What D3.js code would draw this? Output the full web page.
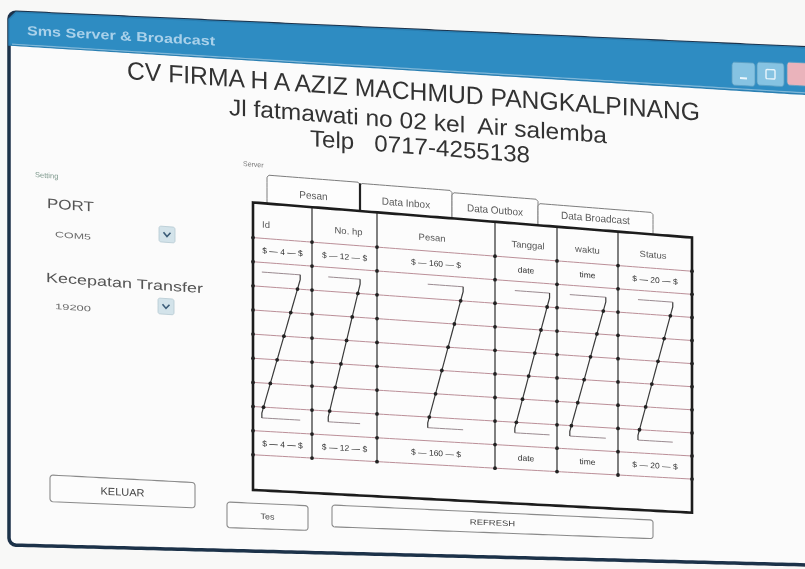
<!DOCTYPE html>
<html><head><meta charset="utf-8">
<script src="https://cdn.jsdelivr.net/npm/d3@7"></script>
<style>html,body{margin:0;padding:0;background:#f8f8f7;overflow:hidden} text{white-space:pre}</style>
</head><body>
<script>
// ---------------- data ----------------
const windowTitle = "Sms Server & Broadcast";
const headerLines = ["CV FIRMA H A AZIZ MACHMUD PANGKALPINANG", "Jl fatmawati no 02 kel  Air salemba", "Telp   0717-4255138"];
const settingLabels = ["Setting", "PORT", "Kecepatan Transfer"];
const comboValues = ["COM5", "19200"];
const groupLabel = "Server";
const tabs = ["Pesan", "Data Inbox", "Data Outbox", "Data Broadcast"];
const columns = ["Id", "No. hp", "Pesan", "Tanggal", "waktu", "Status"];
const fieldTemplates = ["$ \u2014 4 \u2014 $", "$ \u2014 12 \u2014 $", "$ \u2014 160 \u2014 $", "date", "time", "$ \u2014 20 \u2014 $"];
const buttons = ["KELUAR", "Tes", "REFRESH"];
const dataRowCount = 9;

// ---------------- layout ----------------
const W = 805, H = 569;
const L = {
  colEdges: [253, 312, 377, 495, 557, 618, 692],
  tableTop: 183, headerBottom: 219, rowsBottom: 441.3, tableBottom: 477.3,
  zFrac: [[.15, .8], [.25, .74], [.43, .73], [.32, .88], [.21, .8], [.27, .74]],
  headAnchor: ["start", "middle", "middle", "middle", "middle", "middle"],
  headDx: [9, 4, -4, 2, 0, -2],
  tabX: [267, 360, 452, 538, 653], tabTop: [155, 156, 158, 162],
  btn: [[50, 475, 145, 27, 11], [227, 502, 81, 28, 9], [332, 505, 321, 25, 9.5]]
};

// perspective-like mapping from flat design space to photo space
const slope = d3.scaleLinear().domain([12, 45, 61, 183, 477, 545]).range([.045, .062, .072, .08, .052, .025]).clamp(true);
const P = (x, y) => [x, y + slope(y) * (x - 10)];
function inv(X, Y) { let y = Y; for (let i = 0; i < 40; i++) y = Y - slope(y) * (X - 10); return [X, y]; }

const svg = d3.select("body").append("svg").attr("width", W).attr("height", H);
const defs = svg.append("defs");
defs.append("filter").attr("id", "soft").attr("filterUnits", "userSpaceOnUse")
  .attr("x", 0).attr("y", 0).attr("width", W).attr("height", H)
  .append("feGaussianBlur").attr("stdDeviation", 0.45);
const root = svg.append("g").attr("filter", "url(#soft)");

function mapPts(pts, step = 6) {
  const out = [];
  pts.forEach((p, i) => {
    if (i === 0) { out.push(P(p[0], p[1])); return; }
    const q = pts[i - 1];
    const n = Math.max(1, Math.ceil(Math.hypot(p[0] - q[0], p[1] - q[1]) / step));
    for (let k = 1; k <= n; k++) { const t = k / n; out.push(P(q[0] + (p[0] - q[0]) * t, q[1] + (p[1] - q[1]) * t)); }
  });
  return out;
}
const lineGen = d3.line();
function poly(g, pts, closed) {
  return g.append("path").attr("d", lineGen(mapPts(closed ? [...pts, pts[0]] : pts)) + (closed ? "Z" : ""));
}
function rrPts(x0, y0, w, h, r) {
  const pts = [];
  const arc = (cx, cy, a0) => { for (let k = 0; k <= 4; k++) { const a = a0 + k * Math.PI / 8; pts.push([cx + r * Math.cos(a), cy + r * Math.sin(a)]); } };
  arc(x0 + w - r, y0 + r, -Math.PI / 2); arc(x0 + w - r, y0 + h - r, 0); arc(x0 + r, y0 + h - r, Math.PI / 2); arc(x0 + r, y0 + r, Math.PI);
  return pts;
}
function textF(g, fx, fy, str, o = {}) {
  const [sx, sy] = P(fx, fy);
  const b = slope(fy), ds = (slope(fy + 1) - slope(fy - 1)) / 2, d = (1 + ds * (fx - 10)) * (o.vs || 1);
  const t = g.append("text").attr("transform", `matrix(1,${b},0,${d},${sx},${sy})`)
    .attr("xml:space", "preserve")
    .attr("font-family", o.family || "'Liberation Sans', Arial, sans-serif")
    .attr("font-size", o.size || 10).attr("fill", o.fill || "#333")
    .attr("font-weight", o.weight || "normal")
    .attr("text-anchor", o.anchor || "start").text(str);
  if (o.len) t.attr("textLength", o.len).attr("lengthAdjust", "spacingAndGlyphs");
  return t;
}
const text = (g, X, Y, str, o) => { const f = inv(X, Y); return textF(g, f[0], f[1], str, o); };

// ---------------- window ----------------
const win = root.append("g");
poly(win, rrPts(9, 12, 840, 533, 7), true).attr("fill", "#fbfbfb").attr("stroke", "#1c3048").attr("stroke-width", 3.5);
poly(win, [[9, 19], [9, 45], [850, 45], [850, 12], [16, 12]], true).attr("fill", "#2f8cc2").attr("stroke", "#2a7fb2").attr("stroke-width", 1.5);
poly(win, [[12, 44], [850, 44]]).attr("stroke", "#7fb7d8").attr("stroke-width", 1.2).attr("fill", "none");
textF(win, 27, 34, windowTitle, { size: 13, weight: "bold", fill: "#a9d1ea", len: 188 });

// title-bar buttons (given by their screen top and bottom)
[[732, 23, "#86c3e2"], [757, 27, "#86c3e2"], [787, 30, "#eab3bb"]].forEach(([bx, bw, col], i) => {
  const top = inv(bx, 62)[1], bot = inv(bx, 85)[1];
  const h = bot - top;
  poly(win, rrPts(bx, top, bw, h, 2.5), true).attr("fill", col).attr("stroke", "#5d9fc2").attr("stroke-width", 0.8);
  if (i === 0) poly(win, [[bx + 8, top + h * 0.68], [bx + 15, top + h * 0.68]]).attr("stroke", "#eaf6fc").attr("stroke-width", 2);
  if (i === 1) poly(win, rrPts(bx + 9, top + h * 0.3, 9, h * 0.4, 1), true).attr("fill", "none").attr("stroke", "#eaf6fc").attr("stroke-width", 1.4);
});

// ---------------- header text ----------------
const hdr = root.append("g");
text(hdr, 127, 79, headerLines[0], { size: 23, fill: "#333", len: 573, vs: 1.08 });
text(hdr, 229, 115, headerLines[1], { size: 21, fill: "#333", len: 378, vs: 1.08 });
text(hdr, 310, 146, headerLines[2], { size: 21, fill: "#333", len: 220, vs: 1.08 });

// ---------------- left settings ----------------
const left = root.append("g");
text(left, 35, 177, settingLabels[0], { size: 7.5, fill: "#7f9a8e" });
text(left, 47, 208, settingLabels[1], { size: 14, fill: "#555", len: 47 });
text(left, 46, 282, settingLabels[2], { size: 13.5, fill: "#555", len: 157 });
[[55, 237, 159, 226], [55, 309, 158, 298]].forEach(([tx, ty, bx, by], i) => {
  text(left, tx, ty, comboValues[i], { size: 8, fill: "#6b6b6b", len: 36 });
  const f = inv(bx, by);
  poly(left, rrPts(f[0], f[1], 16, 16, 2), true).attr("fill", "#d3e3ea").attr("stroke", "#b5c9d2").attr("stroke-width", 0.8);
  poly(left, [[f[0] + 4.5, f[1] + 6], [f[0] + 8, f[1] + 10], [f[0] + 11.5, f[1] + 6]]).attr("fill", "none").attr("stroke", "#3b5c78").attr("stroke-width", 1.6);
});

// ---------------- server group ----------------
const srv = root.append("g");
text(srv, 243, 166, groupLabel, { size: 7, fill: "#7a7a7a" });

// tabs
tabs.forEach((t, i) => {
  const x0 = L.tabX[i], x1 = L.tabX[i + 1], top = L.tabTop[i];
  poly(srv, [[x0, L.tableTop], [x0, top + 2], [x0 + 2, top], [x1 - 2, top], [x1, top + 2], [x1, L.tableTop]])
    .attr("fill", "#fdfdfd").attr("stroke", "#7d7d7d").attr("stroke-width", 1);
  if (i === 1) poly(srv, [[x0, L.tableTop], [x0, top]]).attr("stroke", "#222").attr("stroke-width", 2.2);
  textF(srv, (x0 + x1) / 2, 175, t, { size: 10, fill: "#5a5a5a", anchor: "middle" });
});

// table
const xs = d3.scaleLinear().domain(d3.range(columns.length + 1)).range(L.colEdges);
const ys = d3.scaleLinear().domain([0, dataRowCount]).range([L.headerBottom, L.rowsBottom]);
const rowH = ys(1) - ys(0);
const tbl = srv.append("g");
poly(tbl, [[L.colEdges[0], L.tableTop], [L.colEdges[6], L.tableTop], [L.colEdges[6], L.tableBottom], [L.colEdges[0], L.tableBottom]], true)
  .attr("fill", "#fcfcfc").attr("stroke", "none");
d3.range(dataRowCount + 1).forEach(r => {
  poly(tbl, [[xs(0), ys(r)], [xs(6), ys(r)]]).attr("stroke", "#bb8f98").attr("stroke-width", 1).attr("fill", "none");
});
d3.range(1, columns.length).forEach(c => {
  poly(tbl, [[xs(c), L.tableTop], [xs(c), ys(dataRowCount)]]).attr("stroke", "#3d3d3d").attr("stroke-width", 1.3).attr("fill", "none");
});
poly(tbl, [[xs(0), L.tableTop], [xs(6), L.tableTop], [xs(6), L.tableBottom], [xs(0), L.tableBottom]], true)
  .attr("fill", "none").attr("stroke", "#1e1e1e").attr("stroke-width", 2.6);
const dots = [];
d3.range(columns.length + 1).forEach(c => d3.range(dataRowCount + 1).forEach(r => dots.push([xs(c), ys(r)])));
columns.forEach((col, i) => {
  const w = xs(i + 1) - xs(i);
  const xl = xs(i) + L.zFrac[i][0] * w, xr = xs(i) + L.zFrac[i][1] * w;
  const yT = ys(1) + 0.4 * rowH, yB = ys(7) + 0.45 * rowH;
  poly(tbl, [[xl, yT], [xr, yT]]).attr("stroke", "#9a8a90").attr("stroke-width", 1).attr("fill", "none");
  poly(tbl, [[xl, yB], [xr, yB]]).attr("stroke", "#9a8a90").attr("stroke-width", 1).attr("fill", "none");
  poly(tbl, [[xr, yT], [xr, yT + 5], [xl, yB - 5], [xl, yB]]).attr("stroke", "#3a3a3a").attr("stroke-width", 1.2).attr("fill", "none");
  d3.range(2, 8).forEach(r => {
    const yy = ys(r), t = (yy - (yT + 5)) / ((yB - 5) - (yT + 5));
    dots.push([xr + (xl - xr) * t, yy]);
  });
});
dots.forEach(([dx, dy]) => {
  const p = P(dx, dy);
  tbl.append("circle").attr("cx", p[0]).attr("cy", p[1]).attr("r", 1.9).attr("fill", "#222");
});
columns.forEach((c, i) => {
  const cx = L.headAnchor[i] === "start" ? xs(i) : (xs(i) + xs(i + 1)) / 2;
  textF(tbl, cx + L.headDx[i], 208, c, { size: 9.5, fill: "#555", anchor: L.headAnchor[i] });
  [0, 8].forEach(r => {
    textF(tbl, (xs(i) + xs(i + 1)) / 2, ys(r) + rowH / 2 + 3, fieldTemplates[i], { size: 8.5, fill: "#333", anchor: "middle" });
  });
});

// ---------------- buttons ----------------
const bg = root.append("g");
buttons.forEach((b, i) => {
  const [bx, by, bw, bh, fs] = L.btn[i];
  const f = inv(bx, by);
  poly(bg, rrPts(f[0], f[1], bw, bh, 3), true).attr("fill", "#fcfcfc").attr("stroke", "#8a8a8a").attr("stroke-width", 1.1);
  textF(bg, f[0] + bw / 2, f[1] + bh / 2 + fs * 0.36, b, { size: fs, fill: "#444", anchor: "middle" });
});
</script>
</body></html>
